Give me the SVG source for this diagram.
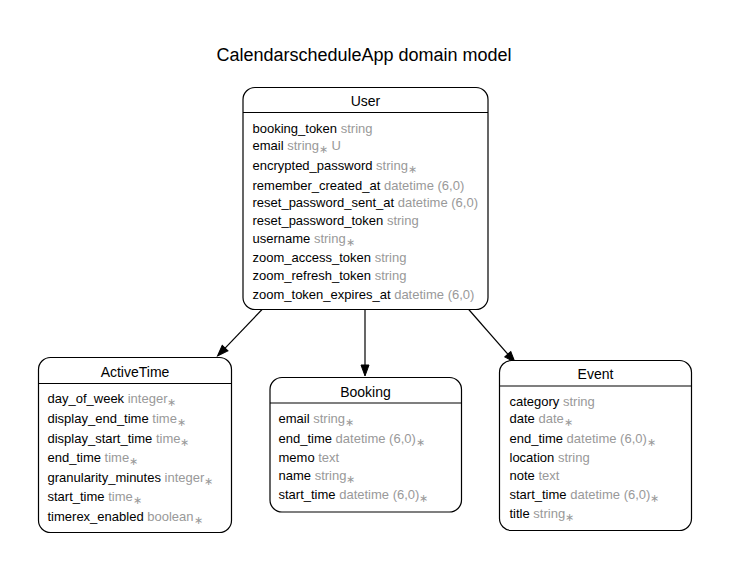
<svg xmlns="http://www.w3.org/2000/svg" width="730" height="572" viewBox="0 0 730 572">
<style>
text{font-family:"Liberation Sans",Arial,Helvetica,sans-serif;fill:#000}
.title{font-size:18px}
.hd{font-size:14px}
.row{font-size:13px}
.t{fill:#999999}
.s{font-size:11px;fill:#999999}
.box{fill:#fff;stroke:#000;stroke-width:1.2}
.sep{stroke:#000;stroke-width:1.2}
.edge{fill:none;stroke:#000;stroke-width:1.2}
</style>
<defs>
<marker id="arr" markerUnits="userSpaceOnUse" markerWidth="12" markerHeight="9" refX="0" refY="4" orient="auto" overflow="visible">
<path d="M0,0 L11,4 L0,8 z" fill="#000" stroke="#000" stroke-width="1"/>
</marker>
</defs>
<rect width="730" height="572" fill="#fff"/>
<text class="title" x="364" y="61" text-anchor="middle">CalendarscheduleApp domain model</text>

<g id="connectors">
<path class="edge" d="M262,309.5 L225.1,348.1" marker-end="url(#arr)"/>
<path class="edge" d="M365,309.5 L365,365" marker-end="url(#arr)"/>
<path class="edge" d="M468.3,309 L507.8,354.2" marker-end="url(#arr)"/>
</g>

<g id="User">
<rect class="box" x="243" y="87.5" width="245" height="222" rx="12"/>
<line class="sep" x1="243" y1="112.5" x2="488" y2="112.5"/>
<text class="hd" x="365.5" y="105.5" text-anchor="middle">User</text>
<text class="row" x="252.5" y="132.8">booking_token <tspan class="t">string</tspan></text>
<text class="row" x="252.5" y="150.2">email <tspan class="t">string</tspan><tspan class="s" dy="3">∗</tspan><tspan class="t" dy="-3"> U</tspan></text>
<text class="row" x="252.5" y="169.5">encrypted_password <tspan class="t">string</tspan><tspan class="s" dy="3">∗</tspan></text>
<text class="row" x="252.5" y="189.5">remember_created_at <tspan class="t">datetime (6,0)</tspan></text>
<text class="row" x="252.5" y="206.8">reset_password_sent_at <tspan class="t">datetime (6,0)</tspan></text>
<text class="row" x="252.5" y="224.5">reset_password_token <tspan class="t">string</tspan></text>
<text class="row" x="252.5" y="242.8">username <tspan class="t">string</tspan><tspan class="s" dy="3">∗</tspan></text>
<text class="row" x="252.5" y="261.8">zoom_access_token <tspan class="t">string</tspan></text>
<text class="row" x="252.5" y="279.5">zoom_refresh_token <tspan class="t">string</tspan></text>
<text class="row" x="252.5" y="298.5">zoom_token_expires_at <tspan class="t">datetime (6,0)</tspan></text>
</g>

<g id="ActiveTime">
<rect class="box" x="38.5" y="357.5" width="193" height="175" rx="12"/>
<line class="sep" x1="38.5" y1="383.5" x2="231.5" y2="383.5"/>
<text class="hd" x="135" y="376.5" text-anchor="middle">ActiveTime</text>
<text class="row" x="47.5" y="402.8">day_of_week <tspan class="t">integer</tspan><tspan class="s" dy="3">∗</tspan></text>
<text class="row" x="47.5" y="422.8">display_end_time <tspan class="t">time</tspan><tspan class="s" dy="3">∗</tspan></text>
<text class="row" x="47.5" y="442.8">display_start_time <tspan class="t">time</tspan><tspan class="s" dy="3">∗</tspan></text>
<text class="row" x="47.5" y="461.8">end_time <tspan class="t">time</tspan><tspan class="s" dy="3">∗</tspan></text>
<text class="row" x="47.5" y="482.2">granularity_minutes <tspan class="t">integer</tspan><tspan class="s" dy="3">∗</tspan></text>
<text class="row" x="47.5" y="501.2">start_time <tspan class="t">time</tspan><tspan class="s" dy="3">∗</tspan></text>
<text class="row" x="47.5" y="521.2">timerex_enabled <tspan class="t">boolean</tspan><tspan class="s" dy="3">∗</tspan></text>
</g>

<g id="Booking">
<rect class="box" x="270" y="377.5" width="191.5" height="134.5" rx="12"/>
<line class="sep" x1="270" y1="403" x2="461.5" y2="403"/>
<text class="hd" x="365.5" y="396.5" text-anchor="middle">Booking</text>
<text class="row" x="278.5" y="422.8">email <tspan class="t">string</tspan><tspan class="s" dy="3">∗</tspan></text>
<text class="row" x="278.5" y="442.8">end_time <tspan class="t">datetime (6,0)</tspan><tspan class="s" dy="3">∗</tspan></text>
<text class="row" x="278.5" y="462.2">memo <tspan class="t">text</tspan></text>
<text class="row" x="278.5" y="479.5">name <tspan class="t">string</tspan><tspan class="s" dy="3">∗</tspan></text>
<text class="row" x="278.5" y="498.5">start_time <tspan class="t">datetime (6,0)</tspan><tspan class="s" dy="3">∗</tspan></text>
</g>

<g id="Event">
<rect class="box" x="499.5" y="360.5" width="192" height="170" rx="12"/>
<line class="sep" x1="499.5" y1="386" x2="691.5" y2="386"/>
<text class="hd" x="595.5" y="379" text-anchor="middle">Event</text>
<text class="row" x="509.5" y="405.8">category <tspan class="t">string</tspan></text>
<text class="row" x="509.5" y="423.2">date <tspan class="t">date</tspan><tspan class="s" dy="3">∗</tspan></text>
<text class="row" x="509.5" y="442.5">end_time <tspan class="t">datetime (6,0)</tspan><tspan class="s" dy="3">∗</tspan></text>
<text class="row" x="509.5" y="461.8">location <tspan class="t">string</tspan></text>
<text class="row" x="509.5" y="479.8">note <tspan class="t">text</tspan></text>
<text class="row" x="509.5" y="498.5">start_time <tspan class="t">datetime (6,0)</tspan><tspan class="s" dy="3">∗</tspan></text>
<text class="row" x="509.5" y="517.5">title <tspan class="t">string</tspan><tspan class="s" dy="3">∗</tspan></text>
</g>
</svg>
